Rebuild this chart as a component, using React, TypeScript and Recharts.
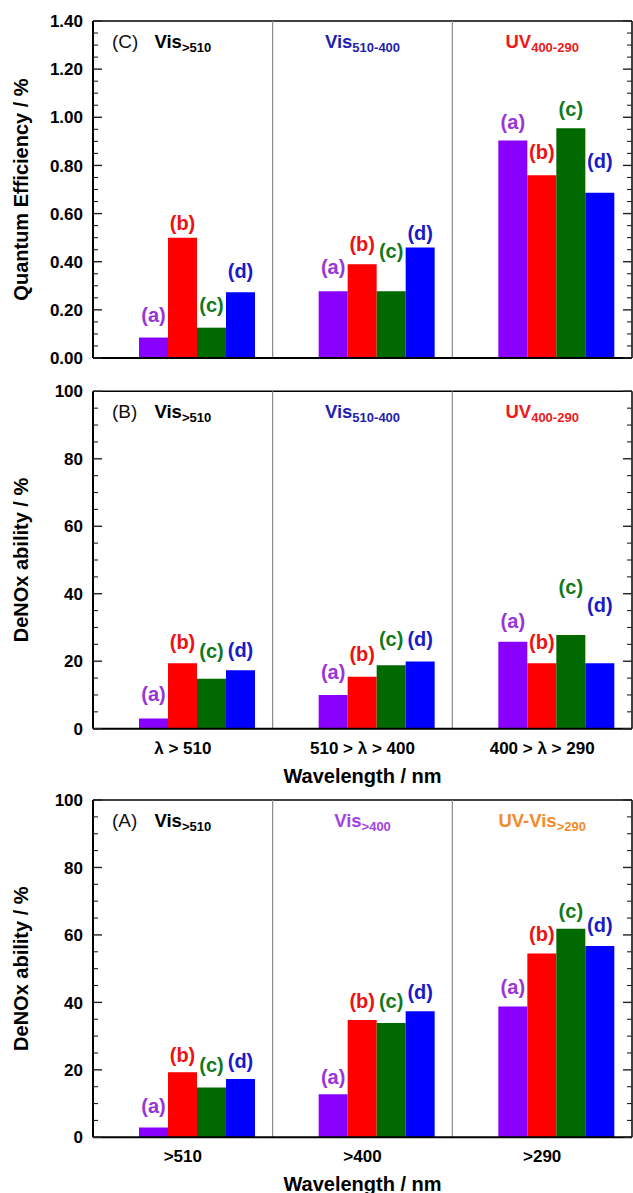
import React from "react";
import { BarChart, Bar, XAxis, YAxis, ReferenceLine, LabelList } from "recharts";

// ---- categories & tick labels ----
const bandWindows = ["λ > 510", "510 > λ > 400", "400 > λ > 290"];
const cutoffFilters = [">510", ">400", ">290"];
const sampleTags = ["(a)", "(b)", "(c)", "(d)"];

// ---- (C) quantum efficiency, % ----
const qeSampleA = [0.085, 0.277, 0.904];
const qeSampleB = [0.5, 0.389, 0.759];
const qeSampleC = [0.126, 0.277, 0.954];
const qeSampleD = [0.273, 0.459, 0.686];

// ---- (B) DeNOx ability within each wavelength window, % ----
const bandSampleA = [3.0, 10.0, 25.8];
const bandSampleB = [19.4, 15.4, 19.4];
const bandSampleC = [14.8, 18.8, 27.8];
const bandSampleD = [17.3, 19.9, 19.4];

// ---- (A) DeNOx ability under cut-off filters, % ----
const cutSampleA = [2.9, 12.8, 38.8];
const cutSampleB = [19.3, 34.8, 54.5];
const cutSampleC = [14.8, 33.9, 61.8];
const cutSampleD = [17.3, 37.4, 56.7];

// ---- axis ticks ----
const qeTicks = [0, 0.2, 0.4, 0.6, 0.8, 1.0, 1.2, 1.4];
const pctTicks = [0, 20, 40, 60, 80, 100];

// ---- section headings ----
const headingsWindow = [
  { main: "Vis", sub: ">510" },
  { main: "Vis", sub: "510-400" },
  { main: "UV", sub: "400-290" },
];
const headingsCutoff = [
  { main: "Vis", sub: ">510" },
  { main: "Vis", sub: ">400" },
  { main: "UV-Vis", sub: ">290" },
];

// ---- styling ----
const FONT = "'Liberation Sans', Arial, Helvetica, sans-serif";
const barFills = ["#8a00ff", "#ff0000", "#006a00", "#0000ff"];
const tagFills = ["#9a35d6", "#ee1111", "#13781a", "#1a1ac8"];
const headingFillsWindow = ["#000000", "#1f1fb0", "#ee1a1a"];
const headingFillsCutoff = ["#000000", "#a245e0", "#f58a2a"];

// gap (px) between each tag and the top of its bar: [series][category]
const tagGapsQE = [
  [12, 13, 7],
  [4, 9, 12],
  [12, 29, 8],
  [10, 4, 21],
];
const tagGapsWindow = [
  [14, 12, 10],
  [10, 12, 10],
  [17, 15, 37],
  [9, 12, 47],
];
const tagGapsCutoff = [
  [11, 6, 8],
  [6, 8, 8],
  [11, 11, 7],
  [7, 8, 10],
];

const seriesKeys = ["a", "b", "c", "d"];

function minorSteps(max: number, step: number): number[] {
  const out: number[] = [];
  const n = Math.round(max / step);
  for (let i = 0; i <= n; i++) out.push(+(i * step).toFixed(4));
  return out;
}

function buildRows(cats: string[], series: number[][]) {
  return cats.map((cat, i) => {
    const row: Record<string, any> = { cat };
    seriesKeys.forEach((k, s) => {
      row[k] = series[s][i];
    });
    return row;
  });
}

type PanelProps = {
  top: number;
  height: number;
  marginTop: number;
  xAxisHeight: number;
  tag: string;
  cats: string[];
  rows: Record<string, any>[];
  yMax: number;
  majorTicks: number[];
  minorTicks: number[];
  tickFormat: (v: number) => string;
  yTitle: string;
  xTickLabels: boolean;
  xTitle: string | null;
  headings: { main: string; sub: string }[];
  headingFills: string[];
  tagGaps: number[][];
};

const LEFT_TICK_GAP = 10; // tickSize 0 + tickMargin 10 on the labelled axis

function Panel(p: PanelProps) {
  const W = 633;
  const isMajor = (v: number) => p.majorTicks.some((m) => Math.abs(m - v) < 1e-6);

  const leftTick = (props: any) => {
    const { x, y, payload } = props;
    const ax = x + LEFT_TICK_GAP;
    const major = isMajor(payload.value);
    return (
      <g>
        <line x1={ax} x2={ax + (major ? 9 : 5)} y1={y} y2={y} stroke="#222" strokeWidth={major ? 1.4 : 1.1} />
        {major && (
          <text
            x={x}
            y={y}
            dy="0.36em"
            textAnchor="end"
            fill="#000"
            fontFamily={FONT}
            fontWeight="bold"
            fontSize={17}
          >
            {p.tickFormat(payload.value)}
          </text>
        )}
      </g>
    );
  };

  const rightTick = (props: any) => {
    const { x, y, payload } = props;
    const major = isMajor(payload.value);
    return (
      <line x1={x} x2={x - (major ? 9 : 5)} y1={y} y2={y} stroke="#222" strokeWidth={major ? 1.4 : 1.1} />
    );
  };

  const headingContent = (i: number) => (lp: any) => {
    const vb = lp.viewBox || {};
    const h = p.headings[i];
    return (
      <text
        x={vb.x}
        y={vb.y + 27}
        textAnchor="middle"
        fill={p.headingFills[i]}
        fontFamily={FONT}
        fontWeight="bold"
        fontSize={18.5}
      >
        <tspan>{h.main}</tspan>
        <tspan dy={4} fontSize={13}>
          {h.sub}
        </tspan>
      </text>
    );
  };

  const panelTag = (lp: any) => {
    const vb = lp.viewBox || {};
    return (
      <text x={vb.x + 19} y={vb.y + 27} fill="#111" fontFamily={FONT} fontSize={19}>
        {p.tag}
      </text>
    );
  };

  const tagContent = (s: number) => (props: any) => {
    const vb = props.viewBox && props.viewBox.width != null ? props.viewBox : props;
    const { x, y, width } = vb;
    const idx = props.index ?? 0;
    const gap = p.tagGaps[s][idx] ?? 8;
    return (
      <text
        x={x + width / 2}
        y={y - gap - 4}
        textAnchor="middle"
        fill={tagFills[s]}
        fontFamily={FONT}
        fontWeight="bold"
        fontSize={20}
      >
        {sampleTags[s]}
      </text>
    );
  };

  return (
    <div style={{ position: "absolute", left: 0, top: p.top, width: W, height: p.height }}>
      <BarChart
        width={W}
        height={p.height}
        data={p.rows}
        margin={{ top: p.marginTop, right: 0, left: 0, bottom: 0 }}
        barGap={0}
        barSize={29}
        style={{ fontFamily: FONT }}
      >
        <XAxis
          dataKey="cat"
          height={p.xAxisHeight}
          axisLine={{ stroke: "#000", strokeWidth: 2 }}
          tickLine={false}
          tickSize={6}
          tickMargin={7}
          interval={0}
          tick={
            p.xTickLabels
              ? { fill: "#000", fontSize: 17, fontWeight: "bold", fontFamily: FONT }
              : false
          }
          label={
            p.xTitle
              ? {
                  content: (lp: any) => {
                    const vb = lp.viewBox || {};
                    return (
                      <text
                        x={vb.x + vb.width / 2}
                        y={vb.y + 54}
                        textAnchor="middle"
                        fill="#000"
                        fontFamily={FONT}
                        fontWeight="bold"
                        fontSize={20}
                      >
                        {p.xTitle}
                      </text>
                    );
                  },
                }
              : undefined
          }
        />

        <YAxis
          width={93}
          domain={[0, p.yMax]}
          ticks={p.minorTicks}
          allowDataOverflow
          axisLine={{ stroke: "#000", strokeWidth: 2 }}
          tickLine={false}
          tickSize={0}
          tickMargin={LEFT_TICK_GAP}
          interval={0}
          tick={leftTick}
          label={{
            content: (lp: any) => {
              const vb = lp.viewBox || {};
              const cx = 28;
              const cy = vb.y + vb.height / 2;
              return (
                <text
                  x={cx}
                  y={cy}
                  transform={`rotate(-90 ${cx} ${cy})`}
                  textAnchor="middle"
                  fill="#000"
                  fontFamily={FONT}
                  fontWeight="bold"
                  fontSize={20}
                >
                  {p.yTitle}
                </text>
              );
            },
          }}
        />
        <YAxis
          yAxisId="right"
          orientation="right"
          width={1}
          domain={[0, p.yMax]}
          ticks={p.minorTicks}
          allowDataOverflow
          axisLine={{ stroke: "#000", strokeWidth: 1.5 }}
          tickLine={false}
          tickSize={0}
          tickMargin={0}
          interval={0}
          tick={rightTick}
        />

        {/* frame top with the panel tag */}
        <ReferenceLine y={p.yMax} stroke="#000" strokeWidth={1.5} label={{ content: panelTag }} />
        {/* band separators */}
        {p.cats.slice(1).map((c) => (
          <ReferenceLine key={`sep-${c}`} x={c} position="start" stroke="#8a8a8a" strokeWidth={1.2} />
        ))}
        {/* band headings */}
        {p.cats.map((c, i) => (
          <ReferenceLine
            key={`head-${c}`}
            x={c}
            stroke="none"
            strokeOpacity={0}
            label={{ content: headingContent(i) }}
          />
        ))}

        {/* empty leading slot: sets each group's place within its band */}
        <Bar dataKey="slot" fill="none" isAnimationActive={false} />
        {seriesKeys.map((k, s) => (
          <Bar key={k} dataKey={k} fill={barFills[s]} isAnimationActive={false}>
            <LabelList dataKey={k} content={tagContent(s)} />
          </Bar>
        ))}
      </BarChart>
    </div>
  );
}

export default function App() {
  const qeRows = buildRows(bandWindows, [qeSampleA, qeSampleB, qeSampleC, qeSampleD]);
  const bandRows = buildRows(bandWindows, [bandSampleA, bandSampleB, bandSampleC, bandSampleD]);
  const cutRows = buildRows(cutoffFilters, [cutSampleA, cutSampleB, cutSampleC, cutSampleD]);

  return (
    <div
      style={{
        position: "absolute",
        left: 0,
        top: 0,
        width: 633,
        height: 1193,
        background: "#fff",
        overflow: "hidden",
      }}
    >
      <Panel
        top={0}
        height={380}
        marginTop={21}
        xAxisHeight={22}
        tag="(C)"
        cats={bandWindows}
        rows={qeRows}
        yMax={1.4}
        majorTicks={qeTicks}
        minorTicks={minorSteps(1.4, 0.05)}
        tickFormat={(v) => v.toFixed(2)}
        yTitle="Quantum Efficiency / %"
        xTickLabels={false}
        xTitle={null}
        headings={headingsWindow}
        headingFills={headingFillsWindow}
        tagGaps={tagGapsQE}
      />
      <Panel
        top={370}
        height={420}
        marginTop={21.3}
        xAxisHeight={61.3}
        tag="(B)"
        cats={bandWindows}
        rows={bandRows}
        yMax={100}
        majorTicks={pctTicks}
        minorTicks={minorSteps(100, 5)}
        tickFormat={(v) => String(v)}
        yTitle="DeNOx ability / %"
        xTickLabels={true}
        xTitle="Wavelength / nm"
        headings={headingsWindow}
        headingFills={headingFillsWindow}
        tagGaps={tagGapsWindow}
      />
      <Panel
        top={780}
        height={413}
        marginTop={20}
        xAxisHeight={55.7}
        tag="(A)"
        cats={cutoffFilters}
        rows={cutRows}
        yMax={100}
        majorTicks={pctTicks}
        minorTicks={minorSteps(100, 5)}
        tickFormat={(v) => String(v)}
        yTitle="DeNOx ability / %"
        xTickLabels={true}
        xTitle="Wavelength / nm"
        headings={headingsCutoff}
        headingFills={headingFillsCutoff}
        tagGaps={tagGapsCutoff}
      />
    </div>
  );
}
